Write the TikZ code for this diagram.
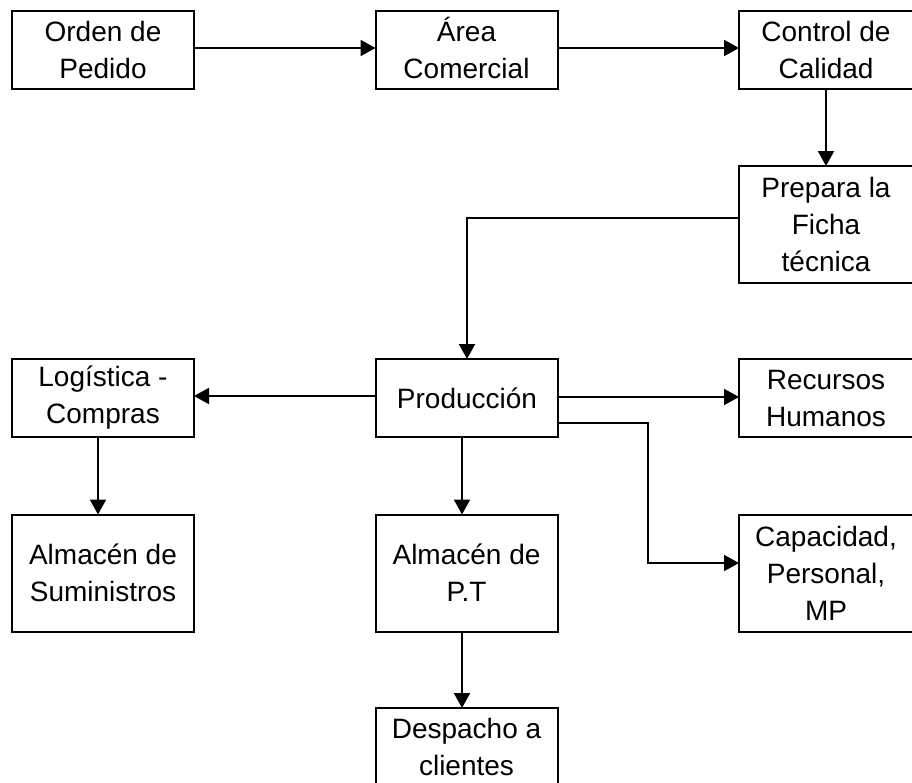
\documentclass[tikz,border=0pt]{standalone}
\usepackage{fontspec}
\setmainfont{Liberation Sans}
\usetikzlibrary{arrows.meta}
\tikzset{
  box/.style={draw=black, line width=2pt, fill=white, inner sep=0pt, outer sep=0pt,
    minimum width=182pt, minimum height=78pt, align=center,
    font=\fontsize{28}{37}\selectfont},
  tall/.style={minimum height=117pt},
  narrow/.style={minimum width=174pt},
  conn/.style={line width=2pt, -{Triangle[length=15pt,width=16pt]}},
  plain/.style={line width=2pt}
}
\begin{document}
\begin{tikzpicture}[x=1pt,y=-1pt]
\useasboundingbox (0,0) rectangle (912,782);
\clip (0,0) rectangle (912,782);
\node[box] (orden) at (103,50) {Orden de\\Pedido};
\node[box] (area) at (466.5,50) {\smash{Á}\vphantom{d}rea\\Comercial};
\node[box,narrow] (control) at (826,50) {Control de\\Calidad};
\node[box,narrow,tall] (prepara) at (826,224.5) {Prepara la\\Ficha\\técnica};
\node[box] (prod) at (467,398) {Producción};
\node[box] (logis) at (103,398) {Logística -\\Compras};
\node[box,narrow] (rrhh) at (826,398) {Recursos\\Humanos};
\node[box,tall] (sumin) at (103,573) {Almacén de\\Suministros};
\node[box,tall] (apt) at (466.5,573) {Almacén de\\P.T};
\node[box,narrow,tall] (capac) at (826,573) {Capacidad,\\Personal,\\MP};
\node[box] (desp) at (466.5,747) {Despacho a\\clientes};

\coordinate (c1) at (648,423);
\coordinate (c2) at (648,563);
\coordinate (c3) at (467,218);

\draw[conn] (orden.east |- 0,48) -- (area.west |- 0,48);
\draw[conn] (area.east |- 0,48) -- (control.west |- 0,48);
\draw[conn] (control.south) -- (prepara.north);
\draw[conn] (prepara.west |- c3) -- (c3) -- (prod.north);
\draw[conn] (prod.west |- 0,396) -- (logis.east |- 0,396);
\draw[conn] (prod.east |- 0,397) -- (rrhh.west |- 0,397);
\draw[conn] (prod.east |- c1) -- (c1) -- (c2) -- (capac.west |- c2);
\draw[conn] (logis.south -| 98,0) -- (sumin.north -| 98,0);
\draw[conn] (prod.south -| 462,0) -- (apt.north -| 462,0);
\draw[conn] (apt.south -| 462,0) -- (desp.north -| 462,0);
\end{tikzpicture}
\end{document}
